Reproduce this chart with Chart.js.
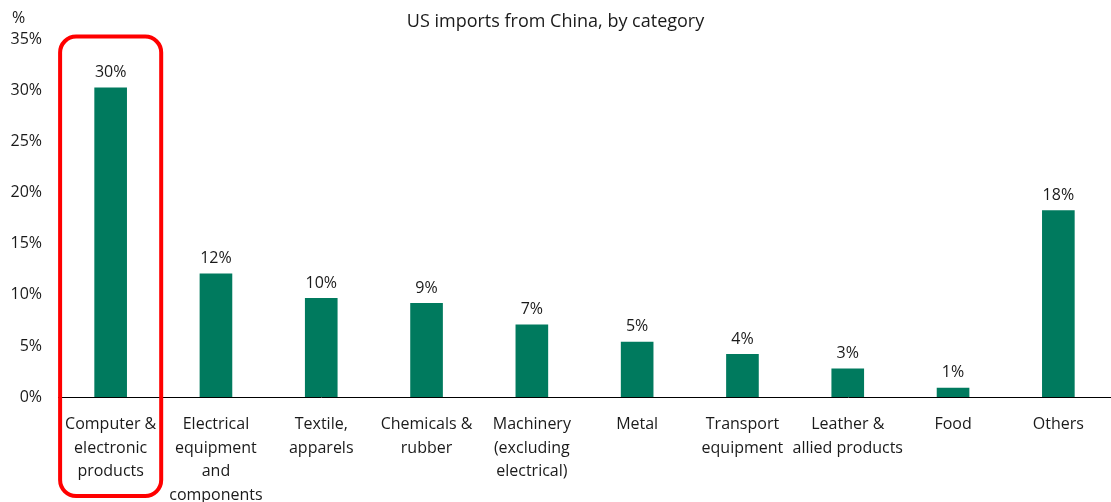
<!DOCTYPE html>
<html>
<head>
<meta charset="utf-8">
<script src="https://cdn.jsdelivr.net/npm/chart.js@4/dist/chart.umd.min.js"></script>
<style>
  html, body { margin: 0; padding: 0; background: #fff; }
  #wrap { width: 1111px; height: 502px; }
</style>
</head>
<body>
<div id="wrap"><canvas id="myChart"></canvas></div>
<script>
const categories = [
  ['Computer &', 'electronic', 'products'],
  ['Electrical', 'equipment', 'and', 'components'],
  ['Textile,', 'apparels'],
  ['Chemicals &', 'rubber'],
  ['Machinery', '(excluding', 'electrical)'],
  ['Metal'],
  ['Transport', 'equipment'],
  ['Leather &', 'allied products'],
  ['Food'],
  ['Others']
];
const shares = [30.3, 12.1, 9.7, 9.2, 7.1, 5.4, 4.2, 2.8, 0.9, 18.3];
const yTicks = [0, 5, 10, 15, 20, 25, 30, 35];
const highlightIndex = 0;

const FONT = '"Open Sans", "Noto Sans", sans-serif';
const TEXT = '#1a1a1a';

// value labels above each bar, plus the "%" unit and the red highlight box
const extras = {
  id: 'extras',
  afterDatasetsDraw(chart) {
    const ctx = chart.ctx;
    const meta = chart.getDatasetMeta(0);
    ctx.save();
    ctx.font = '16px ' + FONT;
    ctx.fillStyle = TEXT;
    ctx.textAlign = 'center';
    ctx.textBaseline = 'middle';
    meta.data.forEach((bar, i) => {
      ctx.fillText(Math.round(shares[i]) + '%', bar.x, bar.y - 15);
    });

    ctx.textAlign = 'left';
    ctx.fillText('%', 12, 18);

    // red rounded box around the highlighted category
    const x = chart.scales.x;
    const step = x.getPixelForValue(1) - x.getPixelForValue(0);
    const cx = x.getPixelForValue(highlightIndex);
    const left = cx - step * 0.48;
    const right = cx + step * 0.48;
    const top = chart.chartArea.top - 3;
    const bottom = chart.height - 6;
    ctx.strokeStyle = '#ff0000';
    ctx.lineWidth = 4;
    ctx.beginPath();
    ctx.roundRect(left, top, right - left, bottom - top, 16);
    ctx.stroke();
    ctx.restore();
  }
};

new Chart(document.getElementById('myChart'), {
  type: 'bar',
  data: {
    labels: categories,
    datasets: [{
      label: 'Share of US imports from China',
      data: shares,
      backgroundColor: '#007a5e',
      categoryPercentage: 1,
      barPercentage: 0.31
    }]
  },
  options: {
    responsive: true,
    maintainAspectRatio: false,
    animation: false,
    layout: { padding: { left: 0, right: 0, top: 0, bottom: 0 } },
    plugins: {
      legend: { display: false },
      tooltip: { enabled: false },
      title: {
        display: true,
        text: 'US imports from China, by category',
        color: TEXT,
        font: { family: FONT, size: 18, weight: 'normal' },
        padding: { top: 11, bottom: 7 }
      }
    },
    scales: {
      x: {
        grid: { display: false, drawTicks: false },
        border: { display: true, color: '#000', width: 1 },
        ticks: {
          color: TEXT,
          padding: 16,
          maxRotation: 0,
          autoSkip: false,
          font: { family: FONT, size: 16, lineHeight: 1.47 }
        },
        afterFit(scale) { scale.height = 105; }
      },
      y: {
        min: 0,
        max: 35,
        grid: { display: false, drawTicks: false },
        border: { display: false },
        afterBuildTicks(scale) { scale.ticks = yTicks.map(v => ({ value: v })); },
        ticks: {
          color: TEXT,
          padding: 16,
          font: { family: FONT, size: 16 },
          callback: v => v + '%'
        },
        afterFit(scale) { scale.width = 58; }
      }
    }
  },
  plugins: [extras]
});
</script>
</body>
</html>
